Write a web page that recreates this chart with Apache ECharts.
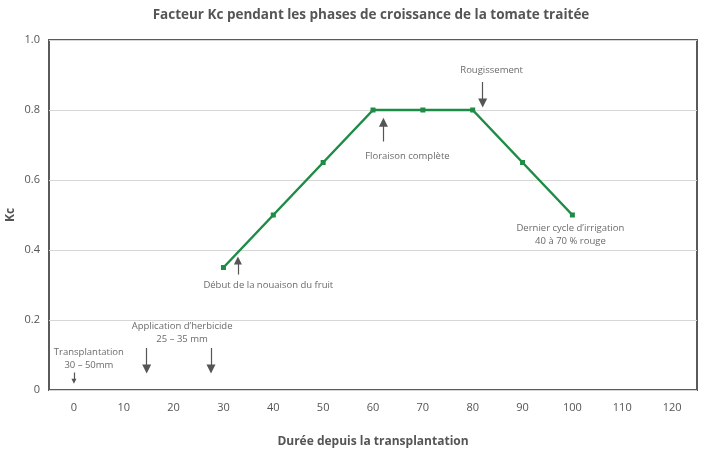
<!DOCTYPE html>
<html><head><meta charset="utf-8">
<script src="https://cdn.jsdelivr.net/npm/echarts@6/dist/echarts.min.js"></script>
<style>html,body{margin:0;padding:0;background:#fff}#c{width:704px;height:461px}</style>
</head><body><div id="c"></div>
<script>
const days = [30, 40, 50, 60, 70, 80, 90, 100];
const kc = [0.35, 0.5, 0.65, 0.8, 0.8, 0.8, 0.65, 0.5];
const yTicks = [0, 0.2, 0.4, 0.6, 0.8, 1.0];
const xTickLabels = [0, 10, 20, 30, 40, 50, 60, 70, 80, 90, 100, 110, 120];
// annotation arrows: [x, yStart, yEnd, headSize]
const arrows = [
  [0, 0.05, 0.025, 5],
  [14.6, 0.12, 0.06, 9],
  [27.5, 0.12, 0.06, 9],
  [32.9, 0.33, 0.37, 8],
  [62.1, 0.71, 0.765, 9],
  [82.0, 0.88, 0.82, 9]
];
// annotation texts: [x, y, text]
const notes = [
  [3.0, 0.088, 'Transplantation\n30 – 50mm'],
  [21.7, 0.163, 'Application d\u2019herbicide\n25 – 35 mm'],
  [39.0, 0.30, 'Début de la nouaison du fruit'],
  [66.9, 0.668, 'Floraison complète'],
  [83.8, 0.913, 'Rougissement'],
  [99.6, 0.443, 'Dernier cycle d\u2019irrigation\n40 à 70 % rouge']
];
const FONT = '"Open Sans", sans-serif';
const chart = echarts.init(document.getElementById('c'), null, {renderer: 'canvas'});
chart.setOption({
  animation: false,
  title: {
    text: 'Facteur Kc pendant les phases de croissance de la tomate traitée',
    left: 366, top: 3, textAlign: 'center',
    textStyle: {fontSize: 13.5, fontWeight: 'bold', color: '#555', fontFamily: FONT}
  },
  grid: {left: 49, right: 7, top: 40, bottom: 71, show: true, borderColor: '#5a5a5a', borderWidth: 2, containLabel: false, outerBoundsMode: 'none'},
  xAxis: {
    type: 'value', min: -5, max: 125, interval: 5,
    name: 'Durée depuis la transplantation', nameLocation: 'middle', nameGap: 46,
    nameTextStyle: {fontSize: 12, fontWeight: 'bold', color: '#555', fontFamily: FONT},
    axisLine: {show: false}, axisTick: {show: false}, splitLine: {show: false},
    axisLabel: {
      color: '#555', fontSize: 11, margin: 12, fontFamily: FONT,
      formatter: v => xTickLabels.indexOf(v) >= 0 ? String(v) : ''
    }
  },
  yAxis: {
    type: 'value', min: 0, max: 1, interval: 0.2,
    name: 'Kc', nameLocation: 'middle', nameGap: 32, nameRotate: 90, nameMoveOverlap: false,
    nameTextStyle: {fontSize: 12, fontWeight: 'bold', color: '#555', fontFamily: FONT},
    axisLine: {show: false}, axisTick: {show: false},
    splitLine: {show: true, lineStyle: {color: '#d6d6d6', width: 1}},
    axisLabel: {
      color: '#555', fontSize: 11, margin: 9, fontFamily: FONT,
      formatter: v => { const t = yTicks.find(y => Math.abs(y - v) < 1e-9); return t === 0 ? '0' : t.toFixed(1); }
    }
  },
  series: [
    {
      type: 'line', data: days.map((d, i) => [d, kc[i]]),
      symbol: 'rect', symbolSize: 5, showSymbol: true,
      lineStyle: {color: '#1f8c45', width: 2.5},
      itemStyle: {color: '#1f8c45'},
      z: 3,
      markLine: {
        silent: true, animation: false,
        symbol: ['none', 'triangle'],
        label: {show: false},
        lineStyle: {color: '#555', width: 1.2, type: 'solid'},
        data: arrows.map(a => [
          {coord: [a[0], a[1]], symbol: 'none'},
          {coord: [a[0], a[2]], symbol: 'triangle', symbolSize: [a[3], a[3]]}
        ])
      }
    },
    {
      type: 'scatter', symbolSize: 0, silent: true,
      data: notes.map(n => ({value: [n[0], n[1]], name: n[2]})),
      label: {
        show: true, position: 'inside', formatter: p => p.name,
        color: '#444', fontSize: 9.5, lineHeight: 13, fontFamily: FONT, align: 'center'
      },
      z: 4
    }
  ]
});
</script></body></html>
